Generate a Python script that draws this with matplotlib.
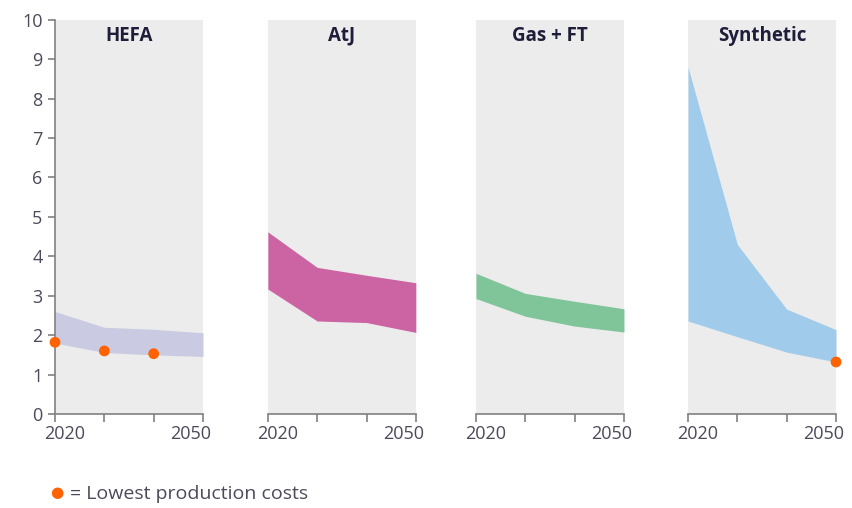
import matplotlib
matplotlib.use("Agg")
import matplotlib.pyplot as plt
from matplotlib.transforms import ScaledTranslation

plt.rcParams["font.family"] = ["Open Sans", "DejaVu Sans"]

years = [2020, 2030, 2040, 2050]
panels = ["HEFA", "AtJ", "Gas + FT", "Synthetic"]

hefa_low = [1.8, 1.56, 1.5, 1.46]
hefa_high = [2.6, 2.2, 2.15, 2.06]
atj_low = [3.17, 2.36, 2.32, 2.07]
atj_high = [4.62, 3.72, 3.52, 3.33]
gas_low = [2.93, 2.48, 2.23, 2.08]
gas_high = [3.57, 3.06, 2.86, 2.67]
syn_low = [2.36, 1.96, 1.57, 1.32]
syn_high = [8.8, 4.3, 2.66, 2.14]

lows = [hefa_low, atj_low, gas_low, syn_low]
highs = [hefa_high, atj_high, gas_high, syn_high]
colors = ["#cacae2", "#cc63a2", "#80c49a", "#a0cbea"]

# lowest production cost markers (year, value) per panel
dot_years = [[2020, 2030, 2040], [], [], [2050]]
dot_vals = [[1.82, 1.6, 1.53], [], [], [1.32]]

ORANGE = "#ff6200"
AXIS_GREY = "#808080"
TEXT = "#4a4a5a"

fig = plt.figure(figsize=(8.53, 5.08), dpi=100)
lefts = [0.0645, 0.314, 0.558, 0.8066]
for i, name in enumerate(panels):
    ax = fig.add_axes([lefts[i], 0.185, 0.1735, 0.776])
    ax.set_facecolor("#ececec")
    ax.fill_between(years, lows[i], highs[i], color=colors[i], lw=0)
    if dot_years[i]:
        ax.scatter(dot_years[i], dot_vals[i], s=60, color=ORANGE, zorder=5,
                   clip_on=False, edgecolors="none")
    ax.set_xlim(2020, 2050)
    ax.set_ylim(0, 10)
    ax.set_xticks(years)
    ax.set_xticklabels(["2020", "", "", "2050"])
    ax.tick_params(axis="x", length=6, width=1.2, color=AXIS_GREY,
                   labelsize=13, labelcolor=TEXT, pad=2)
    # nudge the end labels inward like the original
    labs = ax.get_xticklabels()
    labs[0].set_transform(labs[0].get_transform() + ScaledTranslation(0.10, 0, fig.dpi_scale_trans))
    labs[3].set_transform(labs[3].get_transform() + ScaledTranslation(-0.12, 0, fig.dpi_scale_trans))
    for s in ["top", "right"]:
        ax.spines[s].set_visible(False)
    ax.spines["bottom"].set_color(AXIS_GREY)
    ax.spines["bottom"].set_linewidth(1.2)
    if i == 0:
        ax.set_yticks(range(0, 11))
        ax.tick_params(axis="y", length=5, width=1.2, color=AXIS_GREY,
                       labelsize=13, labelcolor=TEXT, pad=4)
        ax.spines["left"].set_color(AXIS_GREY)
        ax.spines["left"].set_linewidth(1.2)
    else:
        ax.spines["left"].set_visible(False)
        ax.set_yticks([])
    ax.text(0.5, 0.985, name, transform=ax.transAxes, ha="center", va="top",
            fontsize=13.5, fontweight="bold", color="#1e1e3a")

fig.text(0.067, 0.028, "\u25cf", color=ORANGE, fontsize=11, va="center", ha="center")
fig.text(0.082, 0.028, "= Lowest production costs", color=TEXT, fontsize=14,
         va="center", ha="left")

fig.savefig("out.png", dpi=100)
